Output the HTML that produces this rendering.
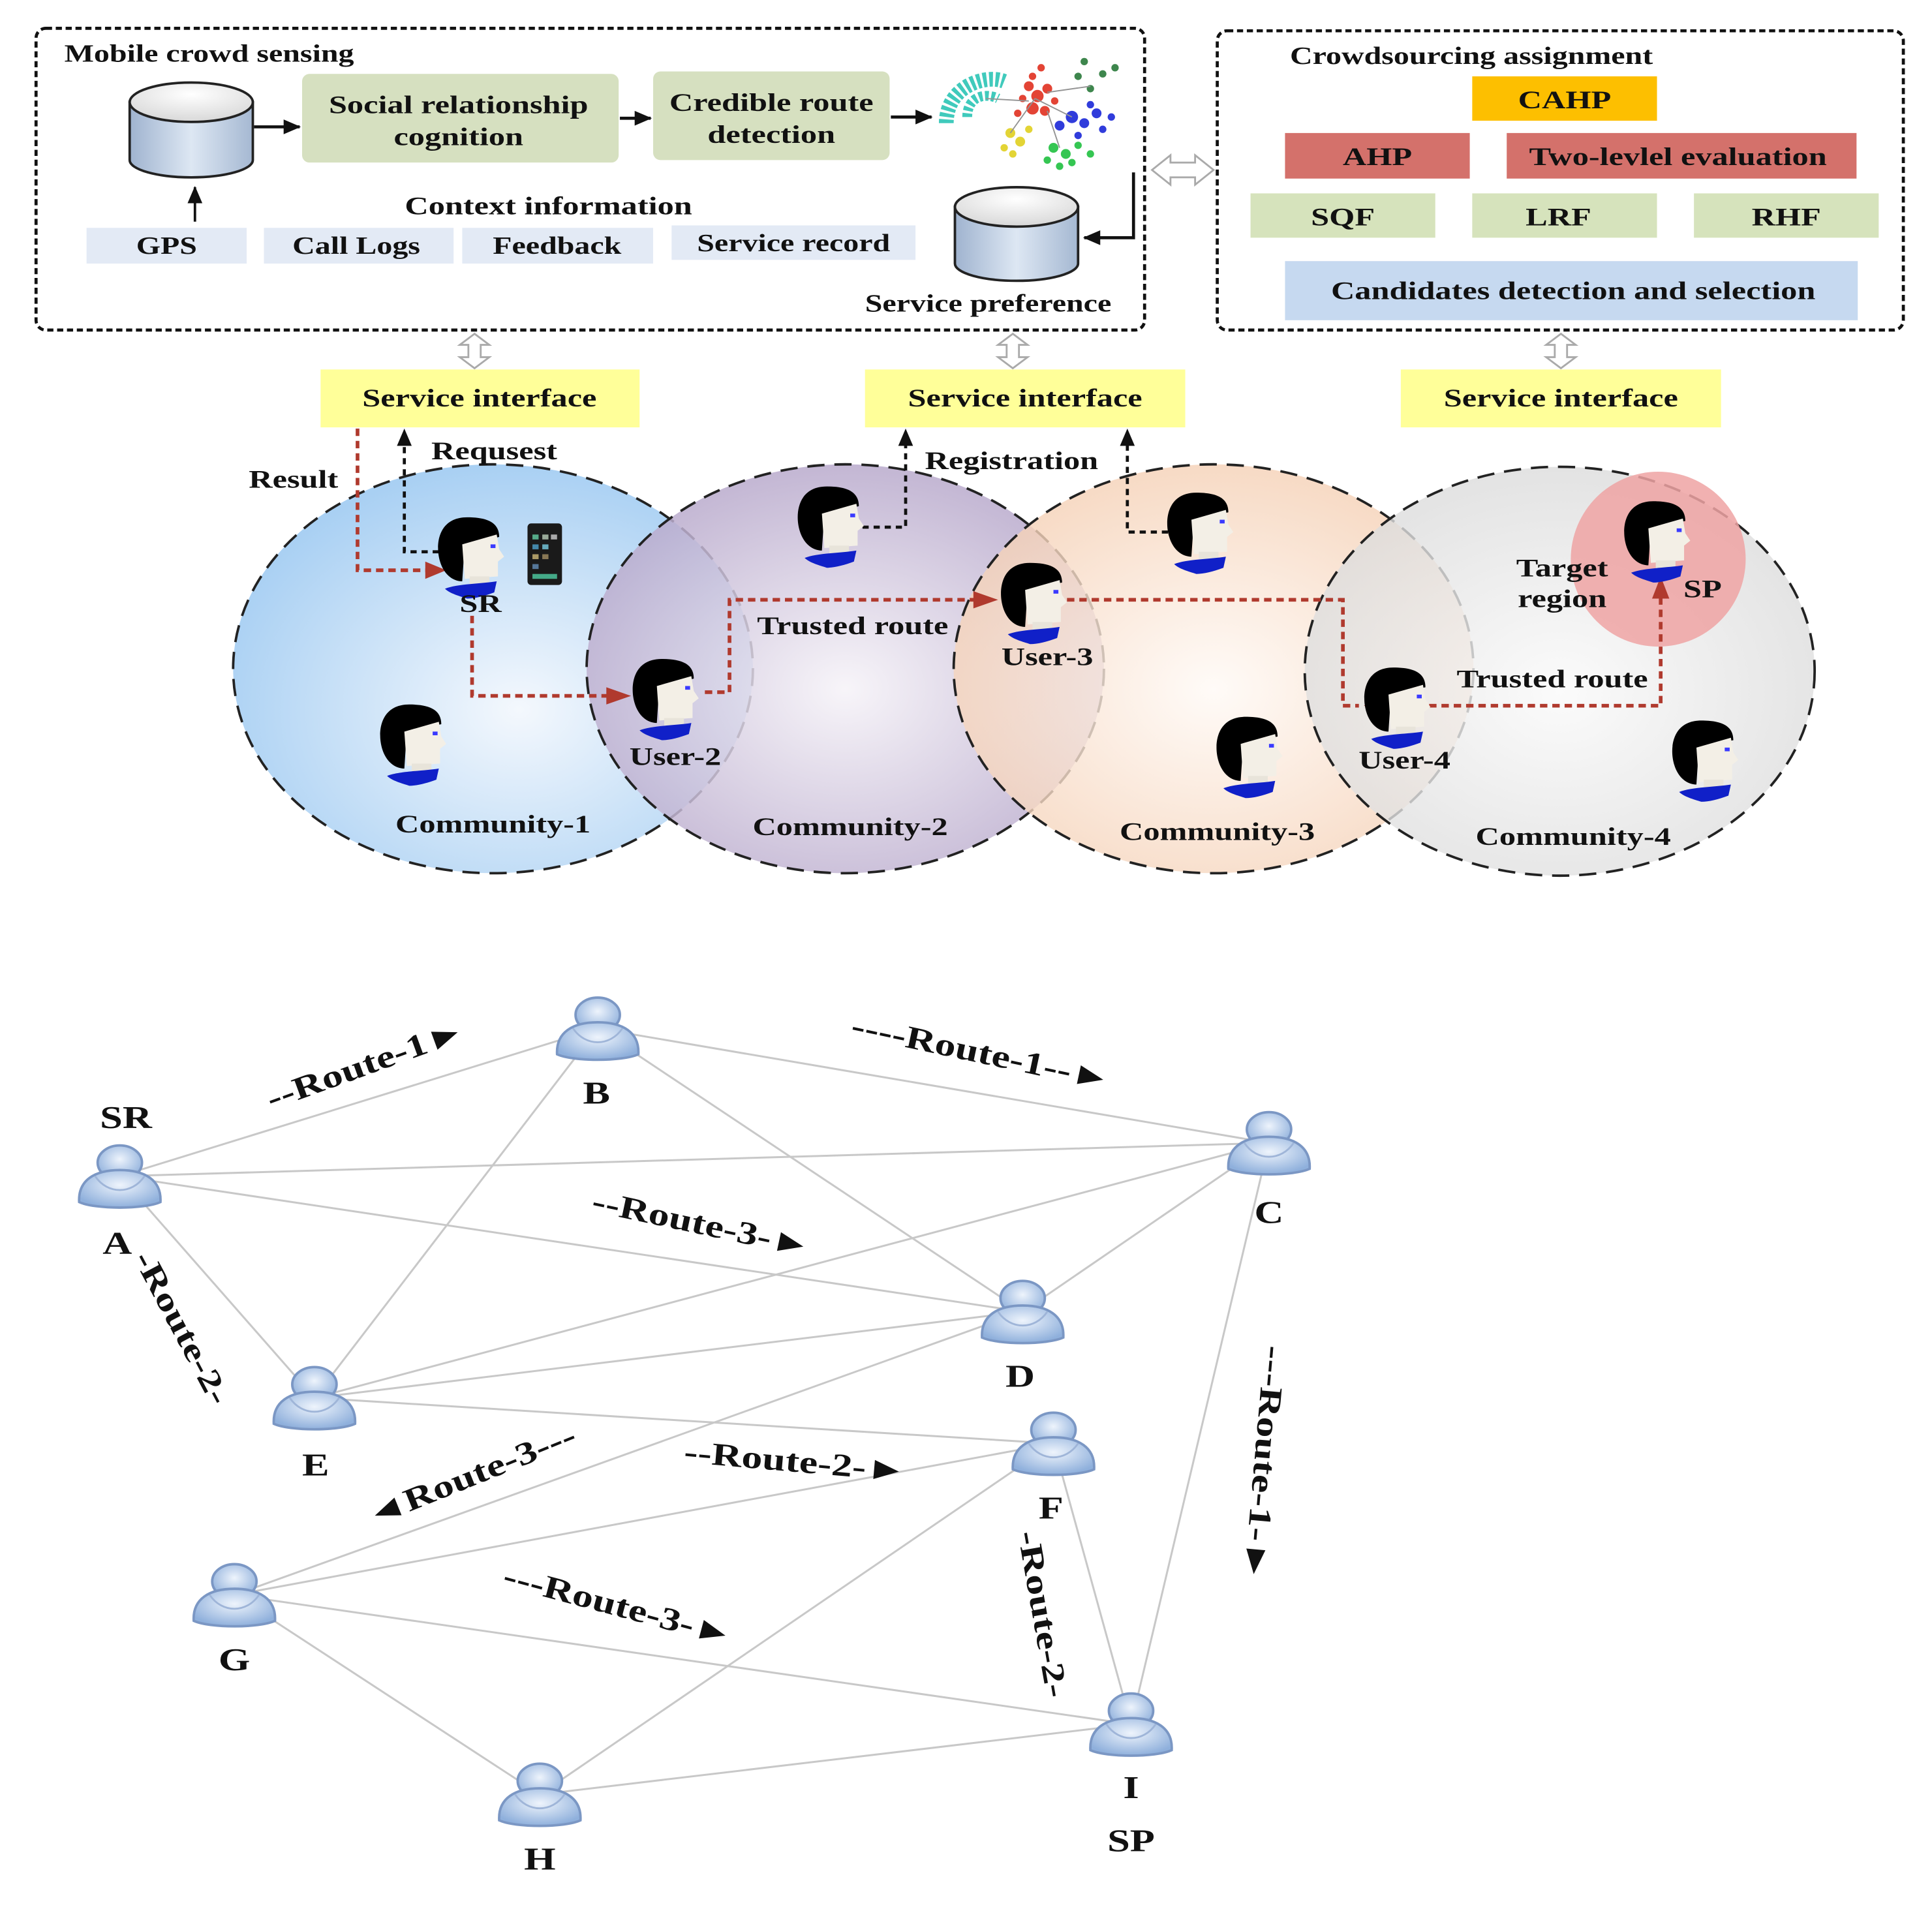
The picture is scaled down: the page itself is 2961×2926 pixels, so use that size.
<!DOCTYPE html>
<html><head><meta charset="utf-8"><style>
html,body{margin:0;padding:0;background:#fff}
svg{display:block}
text{font-family:"Liberation Serif",serif;font-weight:bold;fill:#111;transform-box:fill-box;transform-origin:center;transform:scaleX(1.27)}
text.l{transform-origin:left center}
text.r{transform-box:view-box;transform-origin:0 0}
</style></head><body>
<svg width="2961" height="2926" viewBox="0 0 1568 1550" xmlns="http://www.w3.org/2000/svg">
<defs>
<linearGradient id="cyl" x1="0" x2="1" y1="0" y2="0"><stop offset="0" stop-color="#9fb3cf"/><stop offset="0.5" stop-color="#dde7f3"/><stop offset="1" stop-color="#a5b8d2"/></linearGradient>
<radialGradient id="cylTop" cx="0.5" cy="0.3" r="0.7"><stop offset="0" stop-color="#fff"/><stop offset="1" stop-color="#d8d8d8"/></radialGradient>
<radialGradient id="g1" cx="0.55" cy="0.6" r="0.6"><stop offset="0" stop-color="#f4f8fd"/><stop offset="1" stop-color="#a9d0f3"/></radialGradient>
<radialGradient id="g2" cx="0.5" cy="0.55" r="0.6"><stop offset="0" stop-color="#f6f3f8"/><stop offset="1" stop-color="#b3a3c8"/></radialGradient>
<radialGradient id="g3" cx="0.5" cy="0.55" r="0.6"><stop offset="0" stop-color="#fffaf6"/><stop offset="1" stop-color="#f4cdb0"/></radialGradient>
<radialGradient id="g4" cx="0.5" cy="0.55" r="0.6"><stop offset="0" stop-color="#fafafa"/><stop offset="1" stop-color="#d9d9d9"/></radialGradient>
<radialGradient id="ub" cx="0.5" cy="0.4" r="0.6"><stop offset="0" stop-color="#eef4fc"/><stop offset="1" stop-color="#8fb0dc"/></radialGradient>
<marker id="ab" markerWidth="14" markerHeight="12" refX="13" refY="6" orient="auto" markerUnits="userSpaceOnUse"><path d="M0,0 L14,6 L0,12z" fill="#111"/></marker>
<g id="person">
 <path d="M-6,-28 C-30,-28 -32,-5 -28,8 C-25,18 -18,24 -10,24 L-8,-6 L20,-12 C20,-24 10,-28 -6,-28z" fill="#000"/>
 <path d="M-10,-6 L18,-14 L20,-2 L24,4 L19,8 L19,20 L-8,22 z" fill="#f3efe6"/>
 <rect x="-4" y="20" width="16" height="8" fill="#e8e4da"/>
 <path d="M-24,30 C-14,26 6,26 18,24 L16,33 C8,36 0,38 -6,38 C-12,36 -20,34 -24,30z" fill="#1020c8"/>
 <rect x="13" y="-6" width="4" height="3" fill="#3a3aff"/>
</g>
<g id="user">
 <ellipse cx="0" cy="-14" rx="18" ry="14" fill="url(#ub)" stroke="#7b97c4" stroke-width="2"/>
 <path d="M-33,18 C-34,0 -20,-8 0,-8 C20,-8 34,0 33,18 C20,24 -20,24 -33,18z" fill="url(#ub)" stroke="#7b97c4" stroke-width="2"/>
 <path d="M-20,-3 C-10,12 10,12 20,-3" fill="none" stroke="#9fb5d8" stroke-width="1.5"/>
</g>
</defs>

<!-- TOP LEFT BOX -->
<rect x="29" y="23" width="900" height="245" rx="8" fill="none" stroke="#111" stroke-width="2.5" stroke-dasharray="5,3"/>
<text class="l" x="52" y="50" font-size="20">Mobile crowd sensing</text>
<path d="M105,83 L105,130 A50,14 0 0 0 205,130 L205,83z" fill="url(#cyl)" stroke="#222" stroke-width="2"/>
<ellipse cx="155" cy="83" rx="50" ry="16" fill="url(#cylTop)" stroke="#222" stroke-width="2"/>
<line x1="206" y1="103" x2="243" y2="103" stroke="#111" stroke-width="2.5" marker-end="url(#ab)"/>
<rect x="245" y="60" width="257" height="72" rx="6" fill="#d6e0c0"/>
<text x="372" y="92" font-size="21" text-anchor="middle">Social relationship</text>
<text x="372" y="118" font-size="21" text-anchor="middle">cognition</text>
<line x1="503" y1="96" x2="528" y2="96" stroke="#111" stroke-width="2.5" marker-end="url(#ab)"/>
<rect x="530" y="58" width="192" height="72" rx="6" fill="#d6e0c0"/>
<text x="626" y="90" font-size="21" text-anchor="middle">Credible route</text>
<text x="626" y="116" font-size="21" text-anchor="middle">detection</text>
<line x1="723" y1="95" x2="756" y2="95" stroke="#111" stroke-width="2.5" marker-end="url(#ab)"/>
<g opacity="0.9">
<path d="M768,100 C768,70 800,60 815,66" fill="none" stroke="#2cc5b5" stroke-width="12" stroke-dasharray="3,2"/>
<path d="M785,95 C785,78 800,75 810,80" fill="none" stroke="#2cc5b5" stroke-width="8" stroke-dasharray="3,2"/>
<g fill="#e03020"><circle cx="835" cy="70" r="4"/><circle cx="842" cy="78" r="5"/><circle cx="850" cy="72" r="4"/><circle cx="838" cy="88" r="5"/><circle cx="848" cy="90" r="4"/><circle cx="830" cy="80" r="3"/><circle cx="845" cy="55" r="3"/><circle cx="838" cy="62" r="3"/><circle cx="856" cy="82" r="3"/><circle cx="826" cy="92" r="3"/></g>
<g fill="#1a28d8"><circle cx="870" cy="95" r="5"/><circle cx="880" cy="100" r="4"/><circle cx="890" cy="92" r="4"/><circle cx="860" cy="102" r="4"/><circle cx="895" cy="105" r="3"/><circle cx="875" cy="110" r="3"/><circle cx="902" cy="95" r="3"/><circle cx="885" cy="85" r="3"/></g>
<g fill="#20c040"><circle cx="855" cy="120" r="4"/><circle cx="865" cy="125" r="4"/><circle cx="875" cy="118" r="3"/><circle cx="850" cy="130" r="3"/><circle cx="870" cy="132" r="3"/><circle cx="885" cy="125" r="3"/><circle cx="860" cy="135" r="3"/></g>
<g fill="#e0d020"><circle cx="820" cy="108" r="4"/><circle cx="828" cy="115" r="4"/><circle cx="815" cy="120" r="3"/><circle cx="835" cy="105" r="3"/><circle cx="822" cy="125" r="3"/></g>
<g fill="#2a7a3a"><circle cx="880" cy="50" r="3"/><circle cx="875" cy="62" r="3"/><circle cx="885" cy="72" r="3"/><circle cx="895" cy="60" r="3"/><circle cx="905" cy="55" r="3"/></g>
<g stroke="#888" stroke-width="1"><line x1="840" y1="80" x2="870" y2="95"/><line x1="840" y1="80" x2="820" y2="108"/><line x1="850" y1="90" x2="860" y2="120"/><line x1="850" y1="75" x2="885" y2="70"/><line x1="800" y1="80" x2="835" y2="82"/></g>
</g>
<text x="445" y="174" font-size="21" text-anchor="middle">Context information</text>
<line x1="158" y1="180" x2="158" y2="152" stroke="#111" stroke-width="2" marker-end="url(#ab)"/>
<rect x="70" y="185" width="130" height="29" fill="#e3eaf5"/><text x="135" y="206" font-size="20" text-anchor="middle">GPS</text>
<rect x="214" y="185" width="154" height="29" fill="#e3eaf5"/><text x="289" y="206" font-size="20" text-anchor="middle">Call Logs</text>
<rect x="375" y="185" width="155" height="29" fill="#e3eaf5"/><text x="452" y="206" font-size="20" text-anchor="middle">Feedback</text>
<rect x="545" y="183" width="198" height="28" fill="#e3eaf5"/><text x="644" y="204" font-size="20" text-anchor="middle">Service record</text>
<path d="M775,168 L775,214 A50,14 0 0 0 875,214 L875,168z" fill="url(#cyl)" stroke="#222" stroke-width="2"/>
<ellipse cx="825" cy="168" rx="50" ry="16" fill="url(#cylTop)" stroke="#222" stroke-width="2"/>
<polyline points="920,140 920,193 880,193" fill="none" stroke="#111" stroke-width="2.5" marker-end="url(#ab)"/>
<text x="802" y="253" font-size="20" text-anchor="middle">Service preference</text>
<path d="M935,138 L950,126 L950,132 L970,132 L970,126 L985,138 L970,150 L970,144 L950,144 L950,150z" fill="#fff" stroke="#aaa" stroke-width="1.5"/>

<!-- TOP RIGHT BOX -->
<rect x="988" y="25" width="557" height="243" rx="8" fill="none" stroke="#111" stroke-width="2.5" stroke-dasharray="5,3"/>
<text class="l" x="1047" y="52" font-size="20">Crowdsourcing assignment</text>
<rect x="1195" y="62" width="150" height="36" fill="#fdbf00"/><text x="1270" y="88" font-size="21" text-anchor="middle">CAHP</text>
<rect x="1043" y="108" width="150" height="37" fill="#d4716b"/><text x="1118" y="134" font-size="21" text-anchor="middle">AHP</text>
<rect x="1223" y="108" width="284" height="37" fill="#d4716b"/><text x="1362" y="134" font-size="21" text-anchor="middle">Two-levlel evaluation</text>
<rect x="1015" y="157" width="150" height="36" fill="#d6e3bc"/><text x="1090" y="183" font-size="21" text-anchor="middle">SQF</text>
<rect x="1195" y="157" width="150" height="36" fill="#d6e3bc"/><text x="1265" y="183" font-size="21" text-anchor="middle">LRF</text>
<rect x="1375" y="157" width="150" height="36" fill="#d6e3bc"/><text x="1450" y="183" font-size="21" text-anchor="middle">RHF</text>
<rect x="1043" y="212" width="465" height="48" fill="#c6d9f0"/><text x="1277" y="243" font-size="21" text-anchor="middle">Candidates detection and selection</text>

<g fill="#fff" stroke="#aaa" stroke-width="1.5">
<path d="M385,271 L373,280 L380,280 L380,290 L373,290 L385,299 L397,290 L390,290 L390,280 L397,280z"/>
<path d="M822,271 L810,280 L817,280 L817,290 L810,290 L822,299 L834,290 L827,290 L827,280 L834,280z"/>
<path d="M1267,271 L1255,280 L1262,280 L1262,290 L1255,290 L1267,299 L1279,290 L1272,290 L1272,280 L1279,280z"/>
</g>
<rect x="260" y="300" width="259" height="47" fill="#ffff99"/><text x="389" y="330" font-size="21" text-anchor="middle">Service interface</text>
<rect x="702" y="300" width="260" height="47" fill="#ffff99"/><text x="832" y="330" font-size="21" text-anchor="middle">Service interface</text>
<rect x="1137" y="300" width="260" height="47" fill="#ffff99"/><text x="1267" y="330" font-size="21" text-anchor="middle">Service interface</text>

<!-- COMMUNITIES -->
<g stroke="#222" stroke-width="2" stroke-dasharray="14,8">
<ellipse cx="400" cy="543" rx="211" ry="166" fill="url(#g1)"/>
<ellipse cx="686" cy="543" rx="210" ry="166" fill="url(#g2)" fill-opacity="0.85"/>
<ellipse cx="985" cy="543" rx="211" ry="166" fill="url(#g3)" fill-opacity="0.8"/>
<ellipse cx="1266" cy="545" rx="207" ry="166" fill="url(#g4)" fill-opacity="0.8"/>
</g>
<circle cx="1346" cy="454" r="71" fill="#eea3a3" fill-opacity="0.85"/>

<g fill="none" stroke="#111" stroke-width="2.5" stroke-dasharray="5,4">
<polyline points="356,448 328,448 328,360"/>
<polyline points="700,428 735,428 735,360"/>
<polyline points="948,432 915,432 915,360"/>
</g>
<g fill="#111"><path d="M322,362 L328,348 L334,362z"/><path d="M729,362 L735,348 L741,362z"/><path d="M909,362 L915,348 L921,362z"/></g>
<g fill="none" stroke="#b03a2e" stroke-width="3" stroke-dasharray="6,4">
<polyline points="290,348 290,463 348,463"/>
<polyline points="383,500 383,565 498,565"/>
<polyline points="572,562 592,562 592,487 795,487"/>
<polyline points="866,487 1090,487 1090,573 1103,573"/>
<polyline points="1160,573 1348,573 1348,483"/>
</g>
<g fill="#b03a2e">
<path d="M345,456 L362,463 L345,470z"/>
<path d="M492,558 L512,565 L492,572z"/>
<path d="M790,480 L810,487 L790,494z"/>
<path d="M1107,566 L1087,573 L1107,580z" transform="translate(20,0)"/>
<path d="M1341,486 L1348,468 L1355,486z"/>
</g>

<use href="#person" transform="translate(385,448)"/>
<use href="#person" transform="translate(543,563)"/>
<use href="#person" transform="translate(677,423)"/>
<use href="#person" transform="translate(842,485)"/>
<use href="#person" transform="translate(977,428)"/>
<use href="#person" transform="translate(338,600)"/>
<use href="#person" transform="translate(1017,610)"/>
<use href="#person" transform="translate(1137,570)"/>
<use href="#person" transform="translate(1387,613)"/>
<use href="#person" transform="translate(1348,435)"/>
<rect x="428" y="425" width="28" height="50" rx="3" fill="#1a1a1a"/>
<g><rect x="432" y="434" width="5" height="4" fill="#5a8"/><rect x="440" y="434" width="5" height="4" fill="#9a9"/><rect x="447" y="434" width="5" height="4" fill="#aaa"/><rect x="432" y="442" width="5" height="4" fill="#48a"/><rect x="440" y="442" width="5" height="4" fill="#6ab"/><rect x="432" y="450" width="5" height="4" fill="#a96"/><rect x="440" y="450" width="5" height="4" fill="#875"/><rect x="432" y="458" width="5" height="4" fill="#579"/><rect x="432" y="466" width="20" height="4" fill="#4a8"/></g>

<g font-size="21">
<text x="238" y="396" text-anchor="middle">Result</text>
<text x="401" y="373" text-anchor="middle">Requsest</text>
<text x="821" y="381" text-anchor="middle">Registration</text>
<text x="390" y="497" text-anchor="middle">SR</text>
<text x="692" y="515" text-anchor="middle">Trusted route</text>
<text x="548" y="621" text-anchor="middle">User-2</text>
<text x="850" y="540" text-anchor="middle">User-3</text>
<text x="1140" y="624" text-anchor="middle">User-4</text>
<text x="1260" y="558" text-anchor="middle">Trusted  route</text>
<text x="1268" y="468" text-anchor="middle">Target</text>
<text x="1268" y="493" text-anchor="middle">region</text>
<text x="1382" y="485" text-anchor="middle">SP</text>
<text x="400" y="676" text-anchor="middle">Community-1</text>
<text x="690" y="678" text-anchor="middle">Community-2</text>
<text x="988" y="682" text-anchor="middle">Community-3</text>
<text x="1277" y="686" text-anchor="middle">Community-4</text>
</g>

<!-- BOTTOM GRAPH -->
<g stroke="#c8c8c8" stroke-width="1.6">
<line x1="97" y1="955" x2="485" y2="835"/>
<line x1="97" y1="955" x2="1030" y2="928"/>
<line x1="97" y1="955" x2="830" y2="1065"/>
<line x1="97" y1="955" x2="255" y2="1135"/>
<line x1="485" y1="835" x2="1030" y2="928"/>
<line x1="485" y1="835" x2="255" y2="1135"/>
<line x1="485" y1="835" x2="830" y2="1065"/>
<line x1="1030" y1="928" x2="830" y2="1065"/>
<line x1="1030" y1="928" x2="255" y2="1135"/>
<line x1="1030" y1="928" x2="918" y2="1400"/>
<line x1="830" y1="1065" x2="255" y2="1135"/>
<line x1="830" y1="1065" x2="190" y2="1295"/>
<line x1="255" y1="1135" x2="855" y2="1172"/>
<line x1="855" y1="1172" x2="190" y2="1295"/>
<line x1="855" y1="1172" x2="438" y2="1457"/>
<line x1="855" y1="1172" x2="918" y2="1400"/>
<line x1="190" y1="1295" x2="918" y2="1400"/>
<line x1="190" y1="1295" x2="438" y2="1457"/>
<line x1="438" y1="1457" x2="918" y2="1400"/>
</g>
<use href="#user" transform="translate(97,958)"/>
<use href="#user" transform="translate(485,838)"/>
<use href="#user" transform="translate(1030,931)"/>
<use href="#user" transform="translate(830,1068)"/>
<use href="#user" transform="translate(255,1138)"/>
<use href="#user" transform="translate(855,1175)"/>
<use href="#user" transform="translate(190,1298)"/>
<use href="#user" transform="translate(438,1460)"/>
<use href="#user" transform="translate(918,1403)"/>
<g font-size="26" text-anchor="middle">
<text x="102" y="916">SR</text>
<text x="95" y="1018">A</text>
<text x="484" y="896">B</text>
<text x="1030" y="993">C</text>
<text x="828" y="1126">D</text>
<text x="256" y="1198">E</text>
<text x="853" y="1233">F</text>
<text x="190" y="1356">G</text>
<text x="438" y="1518">H</text>
<text x="918" y="1460">I</text>
<text x="918" y="1503">SP</text>
</g>
<g font-size="26" text-anchor="middle">
<text class="r" style="transform:translate(300px,872px) rotate(-20deg) scaleX(1.3)">--Route-1►</text>
<text class="r" style="transform:translate(795px,863px) rotate(12deg) scaleX(1.3)">----Route-1--►</text>
<text class="r" style="transform:translate(568px,1002px) rotate(12deg) scaleX(1.3)">--Route-3-►</text>
<text class="r" style="transform:translate(140px,1082px) rotate(62deg) scaleX(1.3)">-Route-2-</text>
<text class="r" style="transform:translate(385px,1206px) rotate(-22deg) scaleX(1.3)">◄Route-3---</text>
<text class="r" style="transform:translate(645px,1195px) rotate(5deg) scaleX(1.3)">--Route-2-►</text>
<text class="r" style="transform:translate(500px,1312px) rotate(15deg) scaleX(1.3)">---Route-3-►</text>
<text class="r" style="transform:translate(838px,1312px) rotate(80deg) scaleX(1.3)">-Route-2-</text>
<text class="r" style="transform:translate(1018px,1188px) rotate(95deg) scaleX(1.3)">---Route-1-►</text>
</g>
</svg>
</body></html>
